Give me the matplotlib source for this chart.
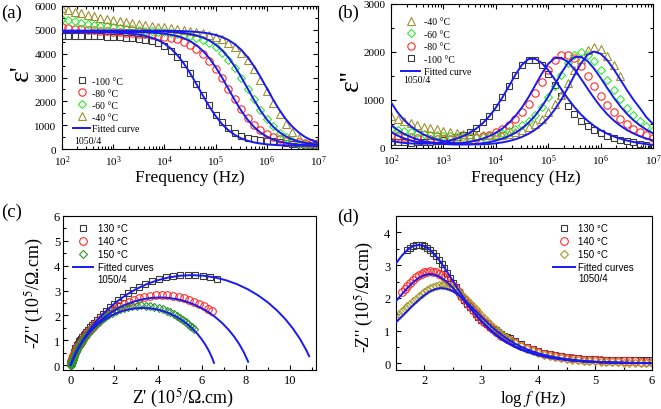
import numpy as np
import matplotlib
matplotlib.use('Agg')
import matplotlib.pyplot as plt
from matplotlib.ticker import MultipleLocator, LogLocator, NullFormatter

plt.rcParams['font.family'] = ['Liberation Serif', 'DejaVu Serif']
plt.rcParams['mathtext.fontset'] = 'stix'
plt.rcParams['axes.linewidth'] = 0.8

# ---------------- data: panels (a) and (b) ----------------
log_f_ab = [2.0, 2.125, 2.25, 2.375, 2.5, 2.625, 2.75, 2.875, 3.0, 3.125, 3.25, 3.375,
            3.5, 3.625, 3.75, 3.875, 4.0, 4.125, 4.25, 4.375, 4.5, 4.625, 4.75, 4.875,
            5.0, 5.125, 5.25, 5.375, 5.5, 5.625, 5.75, 5.875, 6.0, 6.125, 6.25, 6.375,
            6.5, 6.625, 6.75, 6.875, 7.0]

eps1_m100 = [4760, 4755, 4750, 4745, 4740, 4735, 4725, 4715, 4705, 4690, 4670, 4645, 4615, 4575,
             4520, 4440, 4320, 4130, 3880, 3560, 3170, 2730, 2270, 1830, 1440, 1120, 870, 680,
             550, 470, 420, 380, 350, 320, 290, 260, 230, 200, 175, 150, 130]
eps1_m80 = [5110, 5080, 5050, 5020, 5000, 4975, 4955, 4935, 4915, 4895, 4875, 4855, 4835, 4810,
            4785, 4755, 4715, 4665, 4595, 4500, 4370, 4200, 3980, 3700, 3360, 2960, 2530, 2090,
            1680, 1320, 1020, 790, 620, 500, 410, 350, 310, 280, 265, 255, 250]
eps1_m60 = [5450, 5400, 5350, 5300, 5255, 5215, 5175, 5140, 5105, 5075, 5045, 5015, 4990, 4965,
            4940, 4915, 4890, 4860, 4830, 4790, 4735, 4665, 4570, 4440, 4270, 4040, 3750, 3390,
            2980, 2530, 2080, 1650, 1270, 950, 690, 490, 340, 230, 160, 110, 80]
eps1_m40 = [5900, 5830, 5760, 5690, 5630, 5570, 5515, 5460, 5410, 5365, 5320, 5280, 5240, 5205,
            5170, 5135, 5100, 5065, 5030, 4995, 4955, 4910, 4855, 4790, 4705, 4595, 4455, 4270,
            4030, 3720, 3340, 2900, 2420, 1930, 1470, 1060, 730, 470, 270, 120, 20]

fit1_m100 = [4895, 4895, 4895, 4894, 4894, 4893, 4890, 4886, 4879, 4868, 4853, 4830, 4796, 4747,
             4671, 4571, 4422, 4218, 3946, 3602, 3188, 2725, 2248, 1790, 1384, 1047, 786, 588,
             447, 347, 277, 229, 197, 175, 160, 150, 143, 139, 136, 134, 133]
fit1_m80 = [4920, 4920, 4920, 4920, 4919, 4919, 4919, 4918, 4917, 4915, 4912, 4909, 4903, 4895,
            4882, 4863, 4836, 4796, 4737, 4651, 4528, 4356, 4123, 3819, 3441, 3001, 2525, 2049,
            1609, 1231, 927, 694, 522, 399, 313, 254, 214, 187, 168, 155, 147]
fit1_m60 = [4949, 4949, 4949, 4949, 4949, 4949, 4949, 4949, 4949, 4949, 4948, 4947, 4945, 4942,
            4938, 4933, 4924, 4912, 4893, 4866, 4825, 4765, 4679, 4556, 4383, 4148, 3842, 3462,
            3019, 2540, 2061, 1618, 1238, 932, 697, 524, 401, 315, 255, 214, 187]
fit1_m40 = [4969, 4969, 4969, 4969, 4969, 4969, 4969, 4969, 4969, 4969, 4969, 4969, 4969, 4968,
            4967, 4965, 4962, 4958, 4953, 4944, 4932, 4913, 4885, 4845, 4785, 4698, 4574, 4400,
            4165, 3857, 3475, 3031, 2550, 2069, 1625, 1243, 935, 690, 500, 370, 270]

eps2_m100 = [123, 118, 115, 113, 115, 119, 129, 142, 161, 189, 226, 276, 341, 427, 537, 677, 851,
             1057, 1290, 1525, 1726, 1842, 1830, 1720, 1540, 1310, 1080, 870, 700, 560, 450, 370,
             305, 255, 210, 175, 145, 115, 90, 60, 30]
eps2_m80 = [266, 250, 234, 221, 207, 198, 190, 183, 180, 179, 181, 188, 199, 218, 244, 281, 330,
            398, 485, 599, 743, 924, 1140, 1382, 1628, 1836, 1935, 1940, 1869, 1709, 1509, 1297,
            1091, 906, 746, 610, 498, 404, 329, 267, 217]
eps2_m60 = [392, 369, 347, 327, 309, 291, 277, 262, 251, 242, 234, 229, 228, 231, 239, 252, 273,
            304, 346, 395, 471, 569, 696, 857, 1054, 1284, 1530, 1762, 1931, 1992, 1943, 1815,
            1629, 1419, 1208, 1011, 837, 688, 564, 461, 376]
eps2_m40 = [660, 610, 564, 522, 482, 446, 413, 388, 360, 337, 316, 299, 285, 273, 267, 265, 268,
            278, 297, 327, 370, 428, 508, 614, 751, 926, 1113, 1355, 1617, 1863, 2042, 2107,
            2054, 1916, 1721, 1497]

fit2_m100 = [150, 124, 106, 95, 89, 89, 96, 108, 127, 155, 195, 246, 314, 403, 516, 660, 839,
             1051, 1287, 1529, 1734, 1854, 1859, 1774, 1621, 1430, 1226, 1030, 853, 699, 569,
             461, 372, 300, 242, 194, 157, 126, 101, 81, 65]
fit2_m80 = [330, 258, 202, 158, 124, 114, 99, 89, 85, 87, 94, 106, 127, 156, 196, 247, 317, 406,
            522, 667, 847, 1060, 1301, 1545, 1752, 1874, 1879, 1793, 1639, 1445, 1239, 1041, 862,
            706, 575, 466, 376, 304, 244, 197, 158]
fit2_m60 = [480, 376, 294, 230, 180, 141, 121, 101, 86, 76, 72, 72, 76, 85, 101, 122, 153, 195,
            248, 318, 410, 526, 673, 856, 1072, 1315, 1561, 1771, 1894, 1899, 1812, 1656, 1461,
            1253, 1052, 871, 714, 581, 471, 380, 307]
fit2_m40 = [950, 744, 582, 456, 357, 280, 219, 171, 144, 117, 98, 85, 77, 76, 77, 84, 97, 117,
            144, 181, 231, 295, 379, 488, 626, 800, 1010, 1253, 1515, 1762, 1943, 2010, 1963,
            1832, 1643, 1428, 1211, 1009, 831, 640, 500]

# ---------------- data: panels (c) and (d) ----------------
log_f_cd = [1.50, 1.55, 1.60, 1.65, 1.70, 1.75, 1.80, 1.85, 1.90, 1.95, 2.00, 2.05, 2.10, 2.15,
            2.20, 2.25, 2.30, 2.35, 2.40, 2.45, 2.50, 2.55, 2.60, 2.65, 2.70, 2.75, 2.80, 2.85,
            2.90, 2.95, 3.00, 3.05, 3.10, 3.15, 3.20, 3.25, 3.30, 3.35, 3.40, 3.45, 3.50,
            3.6, 3.7, 3.8, 3.9, 4.0, 4.1, 4.2, 4.3, 4.4, 4.5, 4.6, 4.7, 4.8, 4.9, 5.0, 5.1, 5.2,
            5.3, 5.4, 5.5, 5.6, 5.7, 5.8, 5.9, 6.0]

zim_130 = [3.47, 3.53, 3.58, 3.61, 3.62, 3.61, 3.58, 3.53, 3.47, 3.38, 3.28, 3.16, 3.03, 2.90,
           2.75, 2.61, 2.47, 2.33, 2.19, 2.06, 1.94, 1.82, 1.71, 1.62, 1.52, 1.43, 1.34, 1.26,
           1.19, 1.12, 1.06, 1.01, 0.96, 0.90, 0.85, 0.81, 0.77,
           0.67, 0.59, 0.51, 0.45, 0.38, 0.33, 0.29, 0.26, 0.23, 0.21, 0.18, 0.17, 0.15, 0.14,
           0.13, 0.12, 0.11, 0.11, 0.10, 0.10, 0.10, 0.09, 0.09, 0.09, 0.09]
zre_130 = [6.68, 6.36, 6.03, 5.69, 5.35, 5.01, 4.67, 4.34, 4.02, 3.71, 3.41, 3.13, 2.86, 2.61,
           2.38, 2.16, 1.96, 1.78, 1.61, 1.46, 1.32, 1.19, 1.08, 0.97, 0.88, 0.80, 0.72, 0.65,
           0.59, 0.54, 0.48, 0.44, 0.40, 0.36, 0.33, 0.30, 0.27,
           0.22, 0.19, 0.15, 0.13, 0.11, 0.09, 0.07, 0.06, 0.05, 0.04, 0.04, 0.03, 0.03, 0.02,
           0.02, 0.02, 0.01, 0.01, 0.01, 0.01, 0.01, 0.01, 0.01, 0.0, 0.0]
zim_140 = [2.17, 2.27, 2.37, 2.46, 2.55, 2.63, 2.69, 2.74, 2.78, 2.80, 2.81, 2.80, 2.78, 2.74,
           2.69, 2.63, 2.55, 2.46, 2.37, 2.27, 2.17, 2.06, 1.96, 1.85, 1.74, 1.64, 1.54, 1.45,
           1.36, 1.28, 1.20, 1.12, 1.05, 0.97, 0.92, 0.85, 0.80, 0.75, 0.71,
           0.61, 0.53, 0.46, 0.40, 0.35, 0.30, 0.26, 0.23, 0.20, 0.18, 0.16, 0.14, 0.12, 0.11,
           0.10, 0.09, 0.08, 0.08, 0.07, 0.06, 0.06, 0.06, 0.05, 0.05, 0.05]
zre_140 = [6.46, 6.28, 6.08, 5.87, 5.65, 5.42, 5.18, 4.93, 4.68, 4.41, 4.15, 3.89, 3.63, 3.37,
           3.12, 2.88, 2.65, 2.43, 2.22, 2.02, 1.84, 1.68, 1.52, 1.38, 1.25, 1.13, 1.02, 0.92,
           0.84, 0.75, 0.68, 0.62, 0.56, 0.50, 0.46, 0.42, 0.38, 0.34, 0.31,
           0.25, 0.21, 0.17, 0.14, 0.12, 0.10, 0.08, 0.07, 0.06, 0.05, 0.04, 0.03, 0.03, 0.02,
           0.02, 0.02, 0.01, 0.01, 0.01, 0.01, 0.01, 0.01, 0.01, 0.0, 0.0]
zim_150 = [1.45, 1.52, 1.59, 1.66, 1.74, 1.82, 1.90, 1.98, 2.06, 2.12, 2.19, 2.24, 2.30, 2.34,
           2.37, 2.39, 2.40, 2.39, 2.37, 2.34, 2.30, 2.24, 2.18, 2.10, 2.03, 1.94, 1.85, 1.76,
           1.67, 1.58, 1.48, 1.39, 1.30, 1.21, 1.12, 1.04, 0.97, 0.90, 0.83, 0.77, 0.71,
           0.61, 0.52, 0.44, 0.37, 0.31, 0.26, 0.22, 0.19, 0.16, 0.13, 0.11, 0.095, 0.08, 0.07,
           0.06, 0.05, 0.04, 0.035, 0.03, 0.025, 0.02, 0.017, 0.014, 0.012, 0.01]
zre_150 = [5.64, 5.56, 5.46, 5.36, 5.25, 5.13, 5.00, 4.86, 4.71, 4.55, 4.38, 4.20, 4.01, 3.82,
           3.62, 3.42, 3.22, 3.01, 2.81, 2.61, 2.42, 2.23, 2.05, 1.88, 1.72, 1.57, 1.43, 1.30,
           1.18, 1.07, 0.97, 0.88, 0.79, 0.72, 0.65, 0.58, 0.53, 0.48, 0.43, 0.39, 0.35,
           0.29, 0.24, 0.20, 0.16, 0.13, 0.11, 0.09, 0.08, 0.06, 0.05, 0.04, 0.04, 0.03, 0.03,
           0.02, 0.02, 0.02, 0.01, 0.01, 0.01, 0.01, 0.01, 0.01, 0.0, 0.0]

# fitted Nyquist arcs (panel c)
arc130_x = [0.0, 0.157, 0.308, 0.590, 0.911, 1.266, 1.654, 2.071, 2.515, 2.982, 3.468, 3.969,
            4.483, 5.004, 5.530, 6.056, 6.577, 7.091, 7.592, 8.078, 8.545, 8.989, 9.406, 9.794,
            10.149, 10.470, 10.752, 10.888]
arc130_y = [0.0, 0.328, 0.605, 1.049, 1.466, 1.854, 2.209, 2.530, 2.812, 3.055, 3.256, 3.414,
            3.528, 3.597, 3.620, 3.597, 3.528, 3.414, 3.256, 3.055, 2.812, 2.530, 2.209, 1.854,
            1.466, 1.049, 0.605, 0.356]
arc140_x = [0.0, 0.074, 0.252, 0.459, 0.694, 0.955, 1.239, 1.545, 1.870, 2.212, 2.568, 2.936,
            3.313, 3.695, 4.080, 4.465, 4.847, 5.224, 5.592, 5.948, 6.290, 6.615, 6.921, 7.205,
            7.466, 7.701, 7.908, 8.103]
arc140_y = [0.0, 0.168, 0.510, 0.835, 1.141, 1.425, 1.686, 1.921, 2.128, 2.306, 2.453, 2.569,
            2.653, 2.703, 2.720, 2.703, 2.653, 2.569, 2.453, 2.306, 2.128, 1.921, 1.686, 1.425,
            1.141, 0.835, 0.510, 0.132]
arc150_x = [0.0, 0.118, 0.259, 0.423, 0.609, 0.815, 1.040, 1.282, 1.540, 1.811, 2.093, 2.384,
            2.682, 2.985, 3.290, 3.595, 3.898, 4.196, 4.487, 4.769, 5.040, 5.298, 5.540, 5.765,
            5.971, 6.157, 6.321, 6.462, 6.544]
arc150_y = [0.0, 0.279, 0.550, 0.808, 1.050, 1.275, 1.481, 1.667, 1.831, 1.972, 2.089, 2.181,
            2.247, 2.287, 2.300, 2.287, 2.247, 2.181, 2.089, 1.972, 1.831, 1.667, 1.481, 1.275,
            1.050, 0.808, 0.550, 0.279, 0.088]

# fitted -Z'' vs log f (panel d)
log_f_fit = [1.5, 1.6, 1.7, 1.8, 1.9, 2.0, 2.1, 2.2, 2.3, 2.4, 2.5, 2.6, 2.7, 2.8, 2.9, 3.0, 3.1,
             3.2, 3.3, 3.4, 3.5, 3.6, 3.7, 3.8, 3.9, 4.0, 4.1, 4.2, 4.3, 4.4, 4.5, 4.6, 4.7, 4.8,
             4.9, 5.0, 5.1, 5.2, 5.3, 5.4, 5.5, 5.6, 5.7, 5.8, 5.9, 6.0]
fitz_130 = [3.055, 3.284, 3.465, 3.581, 3.620, 3.581, 3.465, 3.284, 3.055, 2.794, 2.519, 2.242,
            1.974, 1.714, 1.498, 1.288, 1.105, 0.944, 0.805, 0.684, 0.581, 0.491, 0.415, 0.351,
            0.298, 0.250, 0.209, 0.177, 0.149, 0.125, 0.105, 0.089, 0.075, 0.063, 0.052, 0.044,
            0.037, 0.031, 0.026, 0.022, 0.018, 0.015, 0.013, 0.011, 0.009, 0.008]
fitz_140 = [1.900, 2.107, 2.304, 2.477, 2.613, 2.701, 2.730, 2.701, 2.613, 2.477, 2.304, 2.107,
            1.900, 1.690, 1.489, 1.292, 1.129, 0.971, 0.833, 0.712, 0.607, 0.516, 0.438, 0.370,
            0.313, 0.265, 0.224, 0.188, 0.158, 0.133, 0.112, 0.094, 0.079, 0.067, 0.056, 0.047,
            0.040, 0.033, 0.028, 0.024, 0.020, 0.016, 0.014, 0.012, 0.010, 0.008]
fitz_150 = [1.254, 1.424, 1.600, 1.775, 1.941, 2.087, 2.201, 2.275, 2.300, 2.275, 2.201, 2.087,
            1.941, 1.775, 1.600, 1.424, 1.254, 1.089, 0.952, 0.818, 0.702, 0.600, 0.511, 0.434,
            0.369, 0.312, 0.264, 0.223, 0.189, 0.159, 0.133, 0.112, 0.095, 0.080, 0.067, 0.056,
            0.046, 0.040, 0.033, 0.028, 0.024, 0.020, 0.017, 0.014, 0.012, 0.010]

labels_ab = ['-100 °C', '-80 °C', '-60 °C', '-40 °C']
labels_cd = ['130 °C', '140 °C', '150 °C']

# ---------------- styles ----------------
C_SQ = '#3a3a3a'
C_CI = '#ff2a2a'
C_DI = '#33e633'
C_TR = '#9e9132'
C_DI_C = '#2e952e'
C_DI_D = '#a59b2c'
C_FIT = '#1a1aee'
LW_FIT = 1.4
MEW = 0.8

W, H = 661.0, 410.0
def rect(l, t, r, b):
    return [l / W, 1 - b / H, (r - l) / W, (b - t) / H]

fig = plt.figure(figsize=(6.61, 4.10), dpi=100)
axA = fig.add_axes(rect(62, 7, 318, 150))
axB = fig.add_axes(rect(391, 5, 653, 149))
axC = fig.add_axes(rect(63, 217, 316, 371))
axD = fig.add_axes(rect(396, 217, 652, 371))

def mk(ax, x, y, marker, color, ms):
    return ax.plot(x, y, linestyle='none', marker=marker, ms=ms, mfc='none',
                   mec=color, mew=MEW, zorder=2)[0]

def fl(ax, x, y):
    return ax.plot(x, y, color=C_FIT, lw=LW_FIT, zorder=3)[0]

f_ab = 10 ** np.array(log_f_ab)

# ---- (a)
hA = [mk(axA, f_ab, eps1_m100, 's', C_SQ, 4.8),
      mk(axA, f_ab, eps1_m80, 'o', C_CI, 5.3),
      mk(axA, f_ab, eps1_m60, 'D', C_DI, 3.7),
      mk(axA, f_ab, eps1_m40, '^', C_TR, 5.6)]
fa = [fl(axA, f_ab, y) for y in (fit1_m100, fit1_m80, fit1_m60, fit1_m40)]

# ---- (b)
hB = [mk(axB, f_ab, eps2_m100, 's', C_SQ, 4.8),
      mk(axB, f_ab, eps2_m80, 'o', C_CI, 5.3),
      mk(axB, f_ab, eps2_m60, 'D', C_DI, 3.7),
      mk(axB, f_ab[:len(eps2_m40)], eps2_m40, '^', C_TR, 5.6)]
fb = [fl(axB, f_ab, y) for y in (fit2_m100, fit2_m80, fit2_m60, fit2_m40)]

# ---- (c)
n130 = len(zim_130)
n140 = len(zim_140)
hC = [mk(axC, zre_130, zim_130, 's', C_SQ, 5.0),
      mk(axC, zre_140, zim_140, 'o', C_CI, 5.5),
      mk(axC, zre_150, zim_150, 'D', C_DI_C, 4.0)]
fc = [fl(axC, arc130_x, arc130_y), fl(axC, arc140_x, arc140_y), fl(axC, arc150_x, arc150_y)]

# ---- (d)
lf = np.array(log_f_cd)
hD = [mk(axD, lf[len(lf) - n130:], zim_130, 's', C_SQ, 5.0),
      mk(axD, lf[len(lf) - n140:], zim_140, 'o', C_CI, 5.5),
      mk(axD, lf, zim_150, 'D', C_DI_D, 4.0)]
fd = [fl(axD, log_f_fit, y) for y in (fitz_130, fitz_140, fitz_150)]

# ---------------- axes formatting ----------------
for ax in (axA, axB):
    ax.set_xscale('log')
    ax.set_xlim(1e2, 1e7)
    ax.xaxis.set_major_locator(LogLocator(base=10, numticks=12))
    ax.xaxis.set_minor_locator(LogLocator(base=10, subs=np.arange(2, 10), numticks=100))
    ax.xaxis.set_minor_formatter(NullFormatter())
    ax.tick_params(which='both', direction='in', top=True, right=True, labelsize=8, width=0.8)
    ax.tick_params(which='major', length=3.5)
    ax.tick_params(which='minor', length=2)
    ax.tick_params(axis='y', pad=4)
    ax.tick_params(axis='x', pad=3)

axA.set_ylim(0, 6000)
axA.yaxis.set_major_locator(MultipleLocator(1000))
axA.yaxis.set_minor_locator(MultipleLocator(500))
axB.set_ylim(0, 3000)
axB.yaxis.set_major_locator(MultipleLocator(1000))
axB.yaxis.set_minor_locator(MultipleLocator(500))

axC.set_xlim(-0.35, 11.2)
axC.set_ylim(-0.2, 6)
axC.xaxis.set_major_locator(MultipleLocator(2))
axC.xaxis.set_minor_locator(MultipleLocator(1))
axC.yaxis.set_major_locator(MultipleLocator(1))
axC.yaxis.set_minor_locator(MultipleLocator(0.5))

axD.set_xlim(1.5, 6)
axD.set_ylim(-0.2, 4.5)
axD.xaxis.set_major_locator(MultipleLocator(1))
axD.xaxis.set_minor_locator(MultipleLocator(0.5))
axD.yaxis.set_major_locator(MultipleLocator(1))
axD.yaxis.set_minor_locator(MultipleLocator(0.5))

for ax in (axC, axD):
    ax.tick_params(which='both', direction='in', labelsize=9, width=0.8)
    ax.tick_params(which='major', length=3.5)
    ax.tick_params(which='minor', length=2)
axC.tick_params(axis='y', pad=2)
axC.tick_params(axis='x', pad=3)
axD.tick_params(axis='y', pad=4)
axD.tick_params(axis='x', pad=3)

# labels
axA.set_xlabel('Frequency (Hz)', fontsize=12.5)
axA.xaxis.set_label_coords(0.5, -0.14)
axA.set_ylabel("ε'", fontsize=20)
axA.yaxis.set_label_coords(-0.111, 0.54)

axB.set_xlabel('Frequency (Hz)', fontsize=12.5)
axB.xaxis.set_label_coords(0.513, -0.146)
axB.set_ylabel("ε''", fontsize=20)
axB.yaxis.set_label_coords(-0.105, 0.475)

axC.set_xlabel("Z' (10$^{5}$/Ω.cm)", fontsize=13)
axC.xaxis.set_label_coords(0.474, -0.102)
axC.set_ylabel("-Z'' (10$^{5}$/Ω.cm)", fontsize=13)
axC.yaxis.set_label_coords(-0.068, 0.508)

axD.set_xlabel("log $f$ (Hz)", fontsize=12)
axD.xaxis.set_label_coords(0.535, -0.12)
axD.set_ylabel("-Z'' (10$^{5}$/Ω.cm)", fontsize=13)
axD.yaxis.set_label_coords(-0.078, 0.482)

# legends
serif7 = {'family': ['Liberation Serif', 'DejaVu Serif'], 'size': 7}
sans7 = {'family': ['Liberation Sans', 'DejaVu Sans'], 'size': 7}

axA.legend(hA + [fa[0]], labels_ab + ['Fitted curve'], loc='upper left',
           bbox_to_anchor=(0.043, 0.505), frameon=False, prop=serif7, handlelength=1.75,
           handletextpad=0.25, labelspacing=0.3, borderpad=0, borderaxespad=0, numpoints=1)
axA.text(0.047, 0.06, '1050/4', transform=axA.transAxes, fontsize=7, va='center', ha='left')

orderB = [3, 2, 1, 0]
axB.legend([hB[i] for i in orderB] + [fb[0]], [labels_ab[i] for i in orderB] + ['Fitted curve'],
           loc='upper left', bbox_to_anchor=(0.038, 0.91), frameon=False, prop=serif7,
           handlelength=2.0, handletextpad=0.35, labelspacing=0.37, borderpad=0,
           borderaxespad=0, numpoints=1)
axB.text(0.045, 0.479, '1050/4', transform=axB.transAxes, fontsize=7, va='center', ha='left')

axC.legend(hC + [fc[0]], labels_cd + ['Fitted curves'], loc='upper left',
           bbox_to_anchor=(0.0395, 0.952), frameon=False, prop=sans7, handlelength=2.06,
           handletextpad=0.48, labelspacing=0.3, borderpad=0, borderaxespad=0, numpoints=1)
axC.text(0.137, 0.59, '1050/4', transform=axC.transAxes, fontsize=7, va='center', ha='left',
         family=['Liberation Sans', 'DejaVu Sans'])

axD.legend(hD + [fd[0]], labels_cd + ['Fitted curves'], loc='upper left',
           bbox_to_anchor=(0.613, 0.952), frameon=False, prop=sans7, handlelength=2.27,
           handletextpad=0.3, labelspacing=0.3, borderpad=0, borderaxespad=0, numpoints=1)
axD.text(0.711, 0.60, '1050/4', transform=axD.transAxes, fontsize=7, va='center', ha='left',
         family=['Liberation Sans', 'DejaVu Sans'])

# panel letters
fig.text(0.002, 1 - 13 / H, '(a)', fontsize=13.5, va='center', ha='left')
fig.text(337 / W, 1 - 13 / H, '(b)', fontsize=13.5, va='center', ha='left')
fig.text(0.002, 1 - 212 / H, '(c)', fontsize=13.5, va='center', ha='left')
fig.text(337 / W, 1 - 217 / H, '(d)', fontsize=13.5, va='center', ha='left')

fig.savefig('out.png', dpi=100, facecolor='white')
